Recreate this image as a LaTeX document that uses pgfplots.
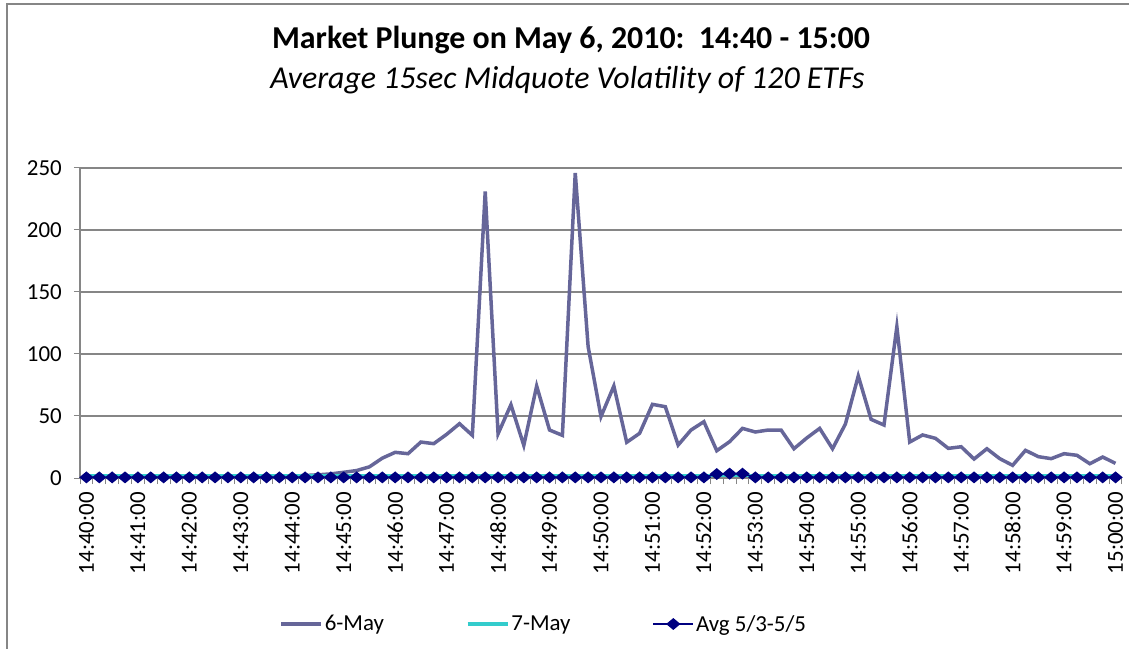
\documentclass[border=0pt]{standalone}
\usepackage{pgfplots}
\pgfplotsset{compat=1.18}
\usepackage{pgfplotstable}
\usepackage{fontspec}
\setmainfont{Carlito}
\definecolor{mayA}{RGB}{102,102,153}
\definecolor{mayB}{RGB}{51,204,204}
\definecolor{avgc}{RGB}{0,0,128}
\definecolor{gridgray}{RGB}{134,134,134}

\pgfplotstableread{
i may6 may7 avg
0 1.0 2.0 0.5
1 1.0 2.0 0.5
2 1.0 2.0 0.5
3 1.0 2.0 0.5
4 1.0 2.0 0.5
5 1.0 2.0 0.5
6 1.0 2.0 0.5
7 1.0 2.0 0.5
8 1.0 2.0 0.5
9 1.0 2.0 0.5
10 1.0 2.0 0.5
11 1.0 2.0 0.5
12 1.0 2.0 0.5
13 1.0 2.0 0.5
14 1.0 2.0 0.5
15 1.2 2.0 0.5
16 1.5 2.0 0.5
17 2.0 2.0 0.5
18 2.6 2.0 0.5
19 3.3 2.0 0.5
20 4.6 2.0 0.5
21 6.0 2.0 0.5
22 9.0 2.0 0.5
23 16.0 2.0 0.5
24 20.7 2.0 0.5
25 19.6 2.0 0.5
26 29.0 2.0 0.5
27 27.7 2.0 0.5
28 35.2 2.0 0.5
29 43.8 2.0 0.5
30 34.4 2.0 0.5
31 231.0 2.0 0.5
32 35.7 2.0 0.5
33 59.1 2.0 0.5
34 26.3 2.0 0.5
35 74.2 2.0 0.5
36 38.7 2.0 0.5
37 34.4 2.0 0.5
38 246.0 2.0 0.5
39 106.0 2.0 0.5
40 49.5 2.0 0.5
41 74.2 2.0 0.5
42 28.8 2.0 0.5
43 36.0 2.0 0.5
44 59.4 2.0 0.5
45 57.5 2.0 0.5
46 26.6 2.0 0.5
47 38.7 2.0 0.5
48 45.4 2.0 0.5
49 22.0 2.0 3.2
50 29.3 2.0 3.5
51 40.0 2.0 3.5
52 37.1 2.0 0.5
53 38.7 2.0 0.5
54 38.7 2.0 0.5
55 23.6 2.0 0.5
56 32.3 2.0 0.5
57 40.0 2.0 0.5
58 23.6 2.0 0.5
59 43.5 2.0 0.5
60 82.3 2.0 0.5
61 47.3 2.0 0.5
62 42.7 2.0 0.5
63 122.0 2.0 0.5
64 29.0 2.0 0.5
65 34.7 2.0 0.5
66 32.0 2.0 0.5
67 23.9 2.0 0.5
68 25.2 2.0 0.5
69 15.3 2.0 0.5
70 23.6 2.0 0.5
71 15.6 2.0 0.5
72 10.2 2.0 0.5
73 22.3 2.0 0.5
74 17.2 2.0 0.5
75 15.6 2.0 0.5
76 19.6 2.0 0.5
77 18.3 2.0 0.5
78 11.5 2.0 0.5
79 16.9 2.0 0.5
80 11.8 2.0 0.5
}\data

\begin{document}
\begin{tikzpicture}
\useasboundingbox (0bp,0bp) rectangle (1129bp,649bp);
\draw[gridgray, line width=1.5bp] (7bp,0bp) -- (7bp,645bp) -- (1129bp,645bp);
\node[anchor=base, inner sep=0pt, font=\fontsize{32}{38}\selectfont\bfseries] at (571bp,600.7bp) {Market Plunge on May 6, 2010:\ \ 14:40 - 15:00};
\node[anchor=base, inner sep=0pt, font=\fontsize{32}{38}\selectfont\itshape] at (567.5bp,560.7bp) {Average 15sec Midquote Volatility of 120 ETFs};
\begin{axis}[
  at={(80bp,171bp)}, anchor=south west,
  scale only axis, width=1042bp, height=310bp,
  xmin=-0.5, xmax=80.5, ymin=0, ymax=250,
  ytick={0,50,...,250}, minor ytick={0,50,...,250},
  ymajorgrids, grid style={gridgray, line width=1.2bp},
  axis x line*=bottom, axis y line*=left,
  axis line style={gridgray, line width=1.2bp},
  tick style={gridgray, line width=1bp},
  tick align=outside, major tick length=0pt, minor tick length=6bp,
  xtick={0,4,...,80},
  xticklabels={14:40:00,14:41:00,14:42:00,14:43:00,14:44:00,14:45:00,14:46:00,14:47:00,14:48:00,14:49:00,14:50:00,14:51:00,14:52:00,14:53:00,14:54:00,14:55:00,14:56:00,14:57:00,14:58:00,14:59:00,15:00:00},
  minor xtick={-0.5,0.5,...,80.5},
  /pgf/number format/assume math mode=true,
  tick label style={font=\fontsize{23}{27}\selectfont},
  xticklabel style={rotate=90, anchor=east, inner sep=0pt},
  xticklabel shift=14bp,
  yticklabel style={inner sep=0pt},
  yticklabel shift=18bp,
  legend style={draw=none, fill=none, at={(0.445,-0.471)}, anchor=center,
    font=\fontsize{23}{27}\selectfont,
    /tikz/every even column/.append style={column sep=80bp}},
  legend columns=3,
  legend image code/.code={\draw[mark repeat=2,mark phase=2,#1] plot coordinates {(0bp,0bp) (20bp,0bp) (40bp,0bp)};},
]
\addplot[mayA, line width=3.5bp, no markers] table[x=i, y=may6] {\data};
\addlegendentry{6-May}
\addplot[mayB, line width=3.5bp, no markers] table[x=i, y=may7] {\data};
\addlegendentry{7-May}
\addplot[avgc, line width=1.5bp, mark=diamond*, mark size=5bp, mark options={xscale=1.6, solid, fill=avgc}] table[x=i, y=avg] {\data};
\addlegendentry{Avg 5/3-5/5}
\end{axis}
\end{tikzpicture}
\end{document}
